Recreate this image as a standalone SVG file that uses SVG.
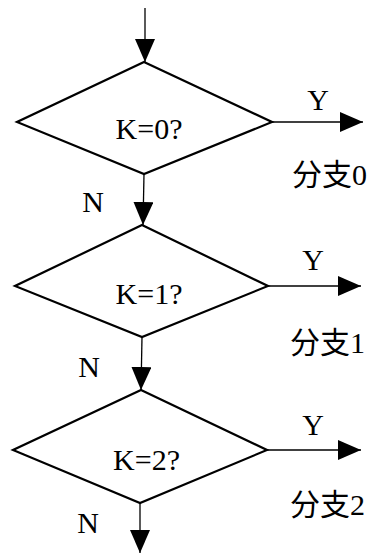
<svg xmlns="http://www.w3.org/2000/svg" width="372" height="553" viewBox="0 0 372 553">
<style>
.dia{fill:#fff;stroke:#000;stroke-width:2.2;stroke-linejoin:miter}
.con{fill:none;stroke:#000;stroke-width:1.3}
.t{font-family:"Liberation Serif","Noto Sans CJK SC",serif;font-size:30px;fill:#000}
.m{text-anchor:middle}
</style>
<defs>
<marker id="ah" viewBox="0 0 23 20" markerWidth="23" markerHeight="20" refX="23" refY="10" orient="auto" markerUnits="userSpaceOnUse">
<path d="M0,0 L23,10 L0,20 z" fill="#000"/>
</marker>
</defs>
<rect width="372" height="553" fill="#fff"/>
<g id="connectors">
<line class="con" x1="145" y1="8" x2="145" y2="62" marker-end="url(#ah)"/>
<line class="con" x1="144" y1="174" x2="143" y2="225" marker-end="url(#ah)"/>
<line class="con" x1="142" y1="337" x2="141" y2="390" marker-end="url(#ah)"/>
<line class="con" x1="140" y1="503" x2="140" y2="553" marker-end="url(#ah)"/>
<line class="con" x1="272" y1="122" x2="363" y2="122" marker-end="url(#ah)"/>
<line class="con" x1="268" y1="286" x2="361" y2="286" marker-end="url(#ah)"/>
<line class="con" x1="267" y1="450" x2="361" y2="450" marker-end="url(#ah)"/>
<text class="t m" x="318" y="110">Y</text>
<text class="t m" x="313" y="270">Y</text>
<text class="t m" x="313" y="435">Y</text>
<text class="t m" x="93" y="212">N</text>
<text class="t m" x="89" y="377">N</text>
<text class="t m" x="88" y="533">N</text>
</g>
<g id="node-k0">
<polygon class="dia" points="144,62 272,122 144,174 17,122"/>
<text class="t m" x="149" y="139">K=0?</text>
</g>
<g id="node-k1">
<polygon class="dia" points="142,225 268,286 142,337 15,286"/>
<text class="t m" x="149" y="304">K=1?</text>
</g>
<g id="node-k2">
<polygon class="dia" points="141,390 267,450 140,503 13,450"/>
<text class="t m" x="146.5" y="470">K=2?</text>
</g>
<g id="branch0"><text class="t" x="292" y="185">分支0</text></g>
<g id="branch1"><text class="t" x="290" y="353">分支1</text></g>
<g id="branch2"><text class="t" x="290" y="515">分支2</text></g>
</svg>
